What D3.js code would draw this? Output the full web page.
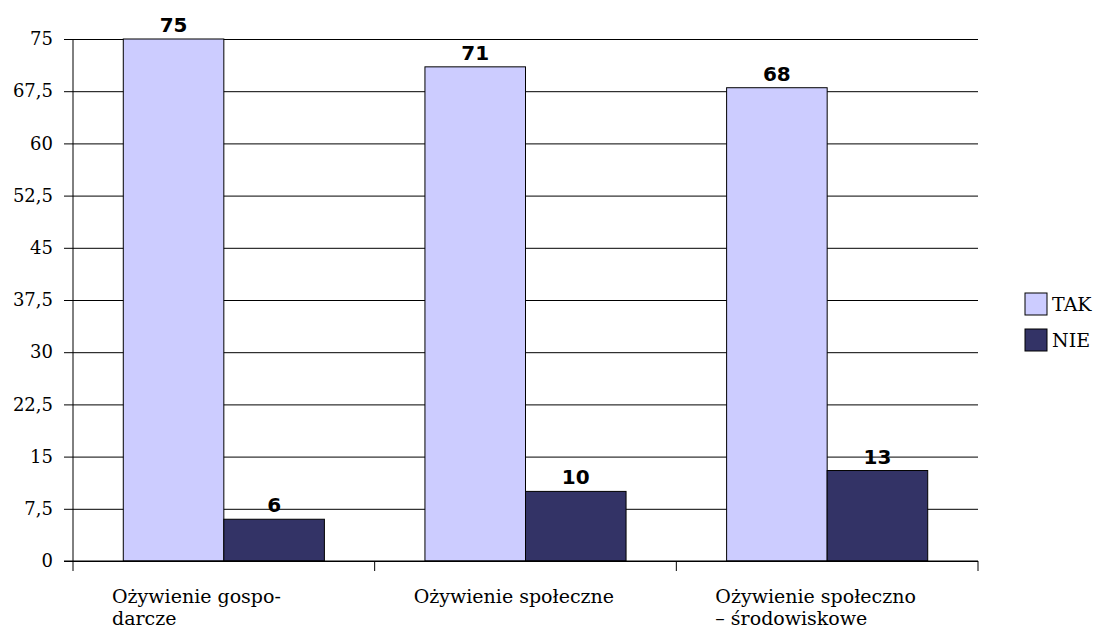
<!DOCTYPE html>
<html lang="pl">
<head>
<meta charset="UTF-8">
<script src="https://d3js.org/d3.v7.min.js"></script>
<style>
  body { margin: 0; background: #fff; }
</style>
</head>
<body>
<div id="chart"></div>
<script>
// dane
const categories = ["Ożywienie gospodarcze", "Ożywienie społeczne", "Ożywienie społeczno – środowiskowe"];
const categoryLines = [["Ożywienie gospo-", "darcze"], ["Ożywienie społeczne"], ["Ożywienie społeczno", "– środowiskowe"]];
const seriesNames = ["TAK", "NIE"];
const takValues = [75, 71, 68];
const nieValues = [6, 10, 13];
const yTicks = [0, 7.5, 15, 22.5, 30, 37.5, 45, 52.5, 60, 67.5, 75];
const colors = ["#ccccff", "#333366"];

const W = 1104, H = 628;
const margin = {top: 39, right: 126, bottom: 67, left: 73};
const width = W - margin.left - margin.right;
const height = H - margin.top - margin.bottom;
const serif = "'DejaVu Serif', serif";

const svg = d3.select("#chart").append("svg")
  .attr("width", W).attr("height", H);
const g = svg.append("g").attr("transform", `translate(${margin.left},${margin.top})`);

const x = d3.scaleBand().domain(categories).range([0, width]);
const xs = d3.scaleBand().domain(seriesNames).range([x.bandwidth() / 6, x.bandwidth() * 5 / 6]);
const y = d3.scaleLinear().domain([0, 75]).range([height, 0]);

const fmt = d => String(d).replace(".", ",");

// siatka + oś Y
const yAxis = g.append("g")
  .call(d3.axisLeft(y).tickValues(yTicks).tickSize(-width).tickSizeOuter(0).tickFormat(fmt).tickPadding(20));
yAxis.select(".domain").remove();
yAxis.selectAll(".tick line").attr("stroke", "#000").attr("x1", -9);
yAxis.selectAll(".tick text").attr("fill", "#000")
  .style("font-family", serif).style("font-size", "18px");

// słupki
const data = categories.map((c, i) => ({c, vals: [takValues[i], nieValues[i]]}));
const groups = g.selectAll(".cat").data(data).join("g")
  .attr("transform", d => `translate(${x(d.c)},0)`);

groups.selectAll("rect").data(d => d.vals.map((v, j) => ({s: seriesNames[j], v, j}))).join("rect")
  .attr("x", d => xs(d.s))
  .attr("y", d => y(d.v))
  .attr("width", xs.bandwidth())
  .attr("height", d => height - y(d.v))
  .attr("fill", d => colors[d.j])
  .attr("stroke", "#000").attr("stroke-width", 1);

groups.selectAll(".val").data(d => d.vals.map((v, j) => ({s: seriesNames[j], v}))).join("text")
  .attr("class", "val")
  .attr("x", d => xs(d.s) + xs.bandwidth() / 2)
  .attr("y", d => y(d.v) - 7)
  .attr("text-anchor", "middle")
  .style("font-family", "'DejaVu Sans', sans-serif").style("font-weight", "bold").style("font-size", "20px")
  .text(d => d.v);

// oś X
g.append("line").attr("x1", -9).attr("x2", width).attr("y1", height).attr("y2", height).attr("stroke", "#000");
const xTicks = categories.map(c => x(c)).concat([width]);
g.selectAll(".xtick").data(xTicks).join("line")
  .attr("x1", d => d).attr("x2", d => d).attr("y1", height).attr("y2", height + 10)
  .attr("stroke", "#000");
g.append("line").attr("x1", 0).attr("x2", 0).attr("y1", 0).attr("y2", height).attr("stroke", "#000");

groups.each(function(d, i) {
  const t = d3.select(this).append("text")
    .style("font-family", serif).style("font-size", "19px").attr("fill", "#000");
  categoryLines[i].forEach((ln, k) => {
    t.append("tspan").attr("x", 39).attr("y", height + 42 + k * 22).text(ln);
  });
});

// legenda
const legend = svg.append("g").attr("transform", "translate(1025,293)");
seriesNames.forEach((s, i) => {
  legend.append("rect").attr("x", 0).attr("y", i * 36).attr("width", 22).attr("height", 22)
    .attr("fill", colors[i]).attr("stroke", "#000");
  legend.append("text").attr("x", 27).attr("y", i * 36 + 18)
    .style("font-family", serif).style("font-size", "19px").text(s);
});
</script>
</body>
</html>
